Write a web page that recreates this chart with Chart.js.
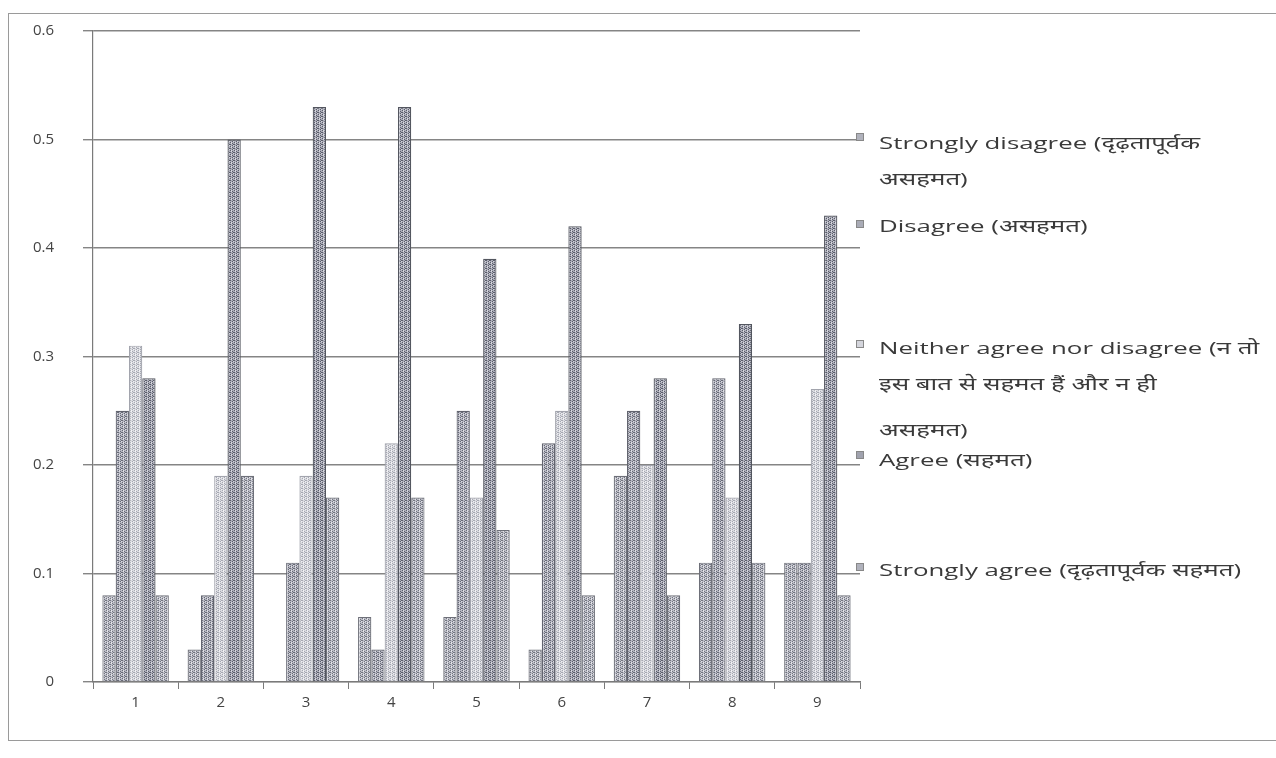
<!DOCTYPE html>
<html>
<head>
<meta charset="utf-8">
<script src="https://cdn.jsdelivr.net/npm/chart.js@4"></script>
<style>
  html, body { margin: 0; padding: 0; background: #fff; }
  #wrap { position: relative; width: 1276px; height: 758px; overflow: hidden; }
  #frame { position: absolute; left: 8px; top: 13px; width: 1300px; height: 728px;
           border: 1px solid #9a9a9a; border-right: none; box-sizing: border-box; }
  canvas { position: absolute; left: 0; top: -7px; }
  #legend { position: absolute; left: 856px; top: 0; width: 420px;
            font-family: "Open Sans", "Noto Sans", sans-serif; font-size: 17px; color: #3a3a3a; }
  .mark { position: absolute; left: 0; width: 6px; height: 6px; border: 1px solid #888; }
  .txt { position: absolute; left: 23px; line-height: 36px; white-space: nowrap;
         transform: scaleX(1.52); transform-origin: 0 0; }
</style>
</head>
<body>
<div id="wrap">
  <div id="frame"></div>
  <canvas id="c" width="1276" height="765"></canvas>
  <div id="legend"></div>
</div>
<script>
// Survey items 1–9, share of respondents per response level
const categories = ['1', '2', '3', '4', '5', '6', '7', '8', '9'];
const stronglyDisagree = [0.08, 0.03, 0.00, 0.06, 0.06, 0.03, 0.19, 0.11, 0.11];
const disagree         = [0.25, 0.08, 0.11, 0.03, 0.25, 0.22, 0.25, 0.28, 0.11];
const neither          = [0.31, 0.19, 0.19, 0.22, 0.17, 0.25, 0.20, 0.17, 0.27];
const agree            = [0.28, 0.50, 0.53, 0.53, 0.39, 0.42, 0.28, 0.33, 0.43];
const stronglyAgree    = [0.08, 0.19, 0.17, 0.17, 0.14, 0.08, 0.08, 0.11, 0.08];
const yTicks = [0, 0.1, 0.2, 0.3, 0.4, 0.5, 0.6];

const seriesNames = [
  'Strongly disagree (दृढ़तापूर्वक असहमत)',
  'Disagree (असहमत)',
  'Neither agree nor disagree (न तो इस बात से सहमत हैं और न ही असहमत)',
  'Agree (सहमत)',
  'Strongly agree (दृढ़तापूर्वक सहमत)'
];

// Stippled grey fill, like a photocopied print
function stipple(base, dot, dot2) {
  const p = document.createElement('canvas');
  p.width = 4; p.height = 4;
  const g = p.getContext('2d');
  g.fillStyle = base; g.fillRect(0, 0, 4, 4);
  g.fillStyle = dot;
  [[0,0],[2,1],[0,2],[2,3],[1,3]].forEach(([x, y]) => g.fillRect(x, y, 1, 1));
  g.fillStyle = dot2;
  [[1,0],[3,2],[3,1]].forEach(([x, y]) => g.fillRect(x, y, 1, 1));
  return document.getElementById('c').getContext('2d').createPattern(p, 'repeat');
}
const fills = [
  stipple('#bcbdc7', '#72757f', '#e3e3e8'),
  stipple('#b5b6c1', '#676a76', '#dddde3'),
  stipple('#dadbe0', '#a6a8b2', '#f1f1f4'),
  stipple('#abacb8', '#5a5d6a', '#d4d5dc'),
  stipple('#bcbdc7', '#72757f', '#e3e3e8')
];
const edges = ['#6e7079', '#62646f', '#a2a4ad', '#53565f', '#6e7079'];

const seriesData = [stronglyDisagree, disagree, neither, agree, stronglyAgree];
const datasets = seriesData.map((d, i) => ({
  label: seriesNames[i],
  data: d,
  backgroundColor: fills[i],
  borderColor: edges[i],
  borderWidth: 1.2,
  categoryPercentage: 0.78,
  barPercentage: 1.0
}));

new Chart(document.getElementById('c'), {
  type: 'bar',
  data: { labels: categories, datasets },
  options: {
    responsive: false,
    animation: false,
    layout: { padding: { left: 0, right: 416, top: 20, bottom: 0 } },
    plugins: { legend: { display: false }, tooltip: { enabled: false } },
    scales: {
      x: {
        grid: { display: true, drawOnChartArea: false, offset: true, color: '#7a7a7a', tickLength: 7 },
        border: { display: true, color: '#7a7a7a', width: 1.2 },
        ticks: { color: '#444', font: { family: 'Open Sans', size: 15 }, padding: 5 },
        afterFit: s => { s.height = 76; }
      },
      y: {
        min: 0, max: 0.6,
        afterBuildTicks: s => { s.ticks = yTicks.map(v => ({ value: v })); },
        grid: { color: '#858585', lineWidth: 1.4, tickLength: 10 },
        border: { display: true, color: '#7a7a7a', width: 1.2 },
        ticks: { color: '#444', font: { family: 'Open Sans', size: 15 }, padding: 29,
                 callback: v => String(v) },
        afterFit: s => { s.width = 93; }
      }
    }
  }
});

// Legend on the right, with the long labels wrapped (each line placed on its own)
const legendRows = [
  { mark: 133, lines: [['Strongly disagree (दृढ़तापूर्वक', 125], ['असहमत)', 161]] },
  { mark: 220, lines: [['Disagree (असहमत)', 208]] },
  { mark: 340, lines: [['Neither agree nor disagree (न तो', 330], ['इस बात से सहमत हैं और न ही', 366], ['असहमत)', 412]] },
  { mark: 451, lines: [['Agree (सहमत)', 442]] },
  { mark: 563, lines: [['Strongly agree (दृढ़तापूर्वक सहमत)', 552]] }
];
const leg = document.getElementById('legend');
legendRows.forEach((r, i) => {
  const m = document.createElement('div');
  m.className = 'mark';
  m.style.top = r.mark + 'px';
  m.style.background = ['#b0b2bc', '#a9abb6', '#d4d5dc', '#a0a2ae', '#b0b2bc'][i];
  leg.appendChild(m);
  r.lines.forEach(([text, top]) => {
    const t = document.createElement('div');
    t.className = 'txt';
    t.style.top = top + 'px';
    t.textContent = text;
    leg.appendChild(t);
  });
});
</script>
</body>
</html>
